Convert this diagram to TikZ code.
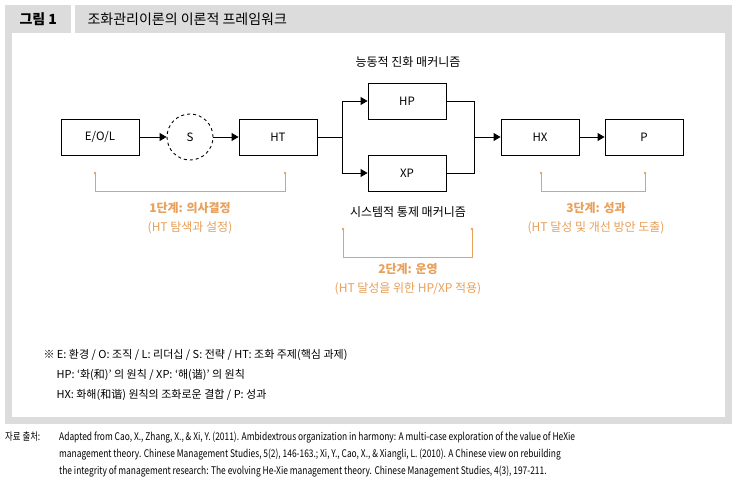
\documentclass[tikz,border=0pt]{standalone}
\usepackage{fontspec}
\setmainfont{Noto Sans CJK KR}
\newfontfamily\srcfont[FakeStretch=0.8]{Noto Sans CJK KR}
\usetikzlibrary{arrows.meta,shapes.geometric}
\definecolor{framegray}{RGB}{220,220,220}
\definecolor{stageorange}{RGB}{232,160,90}
\tikzset{
  blk/.style={draw,line width=0.9pt,minimum width=78pt,minimum height=36pt,font=\fontsize{11.5}{14}\selectfont},
  conn/.style={line width=0.9pt,-{Triangle[length=7pt,width=8pt]}},
  brk/.style={stageorange,line width=0.8pt},
  stage/.style={stageorange,align=center,font=\fontsize{12}{19}\selectfont}
}
\begin{document}
\begin{tikzpicture}[x=1pt,y=-1pt]
\useasboundingbox (0,0) rectangle (735,489);
\fill[white] (0,0) rectangle (735,489);
% frame
\fill[framegray] (5,5) rectangle (732,424);
\fill[white] (12,33) rectangle (725,417);
\fill[white] (71,5) rectangle (75,33);
\node[anchor=west,font=\fontsize{14}{16}\selectfont\bfseries] (fig) at (16,19) {그림 1};
\node[anchor=west,font=\fontsize{14}{16}\selectfont] (title) at (84,19) {조화관리이론의 이론적 프레임워크};
% blocks
\node[blk] (eol) at (100,137) {E/O/L};
\node[draw,line width=0.9pt,dashed,circle,minimum size=46pt,inner sep=0pt,font=\fontsize{11.5}{14}\selectfont] (s) at (190,137) {S};
\node[blk] (ht) at (278,137) {HT};
\node[blk] (hp) at (407,101) {HP};
\node[blk] (xp) at (407,173) {XP};
\node[blk] (hx) at (540,137) {HX};
\node[blk] (p) at (644,137) {P};
\coordinate (split) at (342,137);
\coordinate (join) at (474,137);
% connectors
\draw[conn] (eol) -- (s);
\draw[conn] (s) -- (ht);
\draw[line width=0.9pt] (ht) -- (split);
\draw[conn] (split) |- (hp);
\draw[conn] (split) |- (xp);
\draw[line width=0.9pt] (hp) -| (join);
\draw[line width=0.9pt] (xp) -| (join);
\draw[conn] (join) -- (hx);
\draw[conn] (hx) -- (p);
\node[font=\fontsize{12}{14}\selectfont] (active) at (408,62) {능동적 진화 매커니즘};
\node[font=\fontsize{12}{14}\selectfont] (system) at (408,212) {시스템적 통제 매커니즘};
% stages
\draw[brk] (95,173) -- (95,191) -- (285,191) -- (285,173);
\fill[stageorange] (95,173) circle (1.3) (285,173) circle (1.3);
\node[stage] (st1) at (190,218) {{\bfseries 1단계: 의사결정}\\(HT 탐색과 설정)};
\draw[brk] (343,229) -- (343,257) -- (472,257) -- (472,229);
\fill[stageorange] (343,229) circle (1.3) (472,229) circle (1.3);
\node[stage] (st2) at (408,279) {{\bfseries 2단계: 운영}\\(HT 달성을 위한 HP/XP 적용)};
\draw[brk] (541,173) -- (541,191) -- (645,191) -- (645,173);
\fill[stageorange] (541,173) circle (1.3) (645,173) circle (1.3);
\node[stage] (st3) at (596,218) {{\bfseries 3단계: 성과}\\(HT 달성 및 개선 방안 도출)};
% notes
\node[anchor=north west,align=left,font=\fontsize{11}{20}\selectfont] (note) at (40,346)
  {※ E: 환경 / O: 조직 / L: 리더십 / S: 전략 / HT: 조화 주제(핵심 과제)\\
   \hspace*{13pt}HP: ‘화(和)’ 의 원칙 / XP: ‘해(谐)’ 의 원칙\\
   \hspace*{13pt}HX: 화해(和谐) 원칙의 조화로운 결합 / P: 성과};
\node[anchor=north west,inner sep=0pt,font=\srcfont\fontsize{10.5}{17}\selectfont] (srclbl) at (5,432) {자료 출처:};
\node[anchor=north west,align=left,inner sep=0pt,font=\srcfont\fontsize{10.5}{17}\selectfont] (src) at (59,432)
  {Adapted from Cao, X., Zhang, X., \& Xi, Y. (2011). Ambidextrous organization in harmony: A multi-case exploration of the value of HeXie\\
   management theory. Chinese Management Studies, 5(2), 146-163.; Xi, Y., Cao, X., \& Xiangli, L. (2010). A Chinese view on rebuilding\\
   the integrity of management research: The evolving He-Xie management theory. Chinese Management Studies, 4(3), 197-211.};
\end{tikzpicture}
\end{document}
